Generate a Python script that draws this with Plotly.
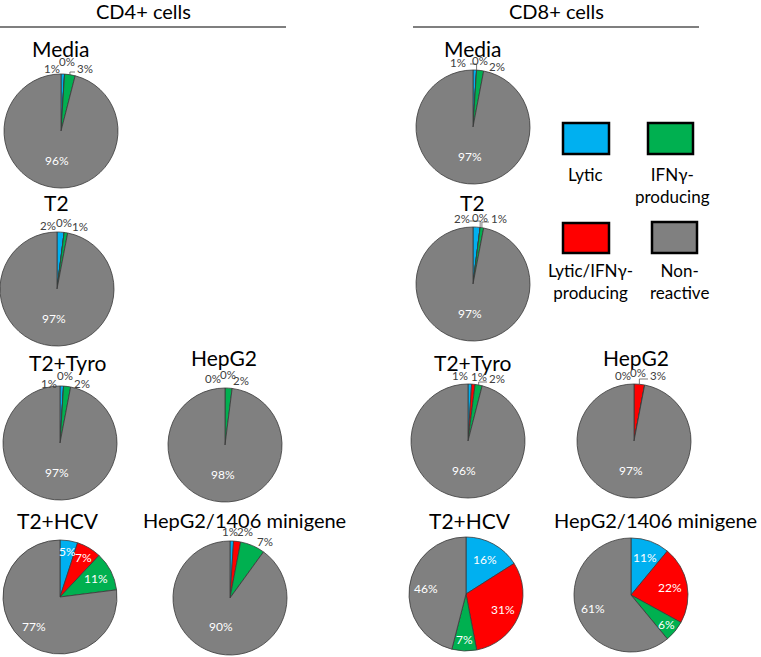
import math
import plotly.graph_objects as go

# ---------------- data ----------------
groups = ["CD4+ cells", "CD8+ cells"]
conditions = ["Media", "T2", "T2+Tyro", "HepG2", "T2+HCV", "HepG2/1406 minigene"]
categories = ["Lytic", "Lytic/IFNγ-producing", "IFNγ-producing", "Non-reactive"]

cd4_media = [1, 0, 3, 96]
cd4_t2 = [2, 0, 1, 97]
cd4_t2_tyro = [1, 0, 2, 97]
cd4_hepg2 = [0, 0, 2, 98]
cd4_t2_hcv = [5, 7, 11, 77]
cd4_hepg2_1406 = [1, 2, 7, 90]

cd8_media = [1, 0, 2, 97]
cd8_t2 = [2, 0, 1, 97]
cd8_t2_tyro = [1, 1, 2, 96]
cd8_hepg2 = [0, 3, 0, 97]
cd8_t2_hcv = [16, 31, 7, 46]
cd8_hepg2_1406 = [11, 22, 6, 61]

legend_labels = ["Lytic", "IFNγ-<br>producing", "Lytic/IFNγ-<br>producing", "Non-<br>reactive"]

# ---------------- styling / layout ----------------
W, H = 761, 657
R = 57
FONT = "Lato"
COLORS = ["#00B0F0", "#FF0000", "#00B050", "#808080"]

# pie centres in pixels
centres = {
    "CD4+ cells": [(61, 131), (57, 289), (60, 443), (225, 445), (60, 597), (230, 598)],
    "CD8+ cells": [(473, 127), (473, 284), (468, 441), (634, 441), (466, 594), (631, 595)],
}
# (x, y, xanchor)
title_pos = {
    "CD4+ cells": [(61, 48, "center"), (57, 203, "center"), (67, 362, "center"),
                   (224, 357, "center"), (58, 520, "center"), (244, 520, "center")],
    "CD8+ cells": [(473, 48, "center"), (472, 203, "center"), (472, 362, "center"),
                   (636, 357, "center"), (470, 520, "center"), (759, 520, "right")],
}
# offsets for labels placed outside the pie (None -> inside label)
outside = {
    "CD4+ cells": [
        [(-9, -63), (6, -70), (24, -63), None],
        [(-9, -64), (7, -67), (23, -63), None],
        [(-11, -60), (5, -68), (22, -60), None],
        [(-12, -67), (3, -71), (16, -65), None],
        [None, None, None, None],
        [(0, -67), (15, -67), (35, -57), None],
    ],
    "CD8+ cells": [
        [(-15, -65), (7, -67), (24, -61), None],
        [(-11, -66), (7, -67), (26, -66), None],
        [(-8, -66), (11, -65), (29, -63), None],
        [(-11, -66), (24, -66), (4, -69), None],
        [None, None, None, None],
        [None, None, None, None],
    ],
}
# outside labels that carry a leader line: (group, panel, slice)
leaders = {("CD4+ cells", 0, 2), ("CD8+ cells", 0, 1), ("CD8+ cells", 1, 1), ("CD8+ cells", 1, 2),
           ("CD8+ cells", 2, 2), ("CD8+ cells", 3, 1)}

data = {
    "CD4+ cells": [cd4_media, cd4_t2, cd4_t2_tyro, cd4_hepg2, cd4_t2_hcv, cd4_hepg2_1406],
    "CD8+ cells": [cd8_media, cd8_t2, cd8_t2_tyro, cd8_hepg2, cd8_t2_hcv, cd8_hepg2_1406],
}


def px(x, y):
    return x / W, 1 - y / H


fig = go.Figure()
annotations = []
shapes = []

for g in groups:
    for i, cond in enumerate(conditions):
        vals = data[g][i]
        cx, cy = centres[g][i]
        fig.add_trace(go.Pie(
            values=vals, labels=categories, sort=False, direction="clockwise", rotation=0,
            marker=dict(colors=COLORS, line=dict(color="#3a3a3a", width=0.8)),
            textinfo="none", hoverinfo="label+percent", showlegend=False,
            domain=dict(x=[(cx - R) / W, (cx + R) / W], y=[1 - (cy + R) / H, 1 - (cy - R) / H]),
        ))
        # panel title
        tx, ty, anc = title_pos[g][i]
        ax, ay = px(tx, ty)
        annotations.append(dict(x=ax, y=ay, xref="paper", yref="paper", text=cond, showarrow=False,
                                font=dict(family=FONT, size=20 if len(cond) > 10 else 21, color="black"),
                                xanchor=anc, yanchor="middle"))
        # percentage labels
        total = sum(vals)
        cum = 0
        for k, v in enumerate(vals):
            mid = (cum + v / 2) / total * 2 * math.pi
            cum += v
            off = outside[g][i][k]
            if off is not None:
                lx, ly = cx + off[0], cy + off[1]
                color = "#404040"
                if (g, i, k) in leaders:
                    ex = cx + math.sin(mid) * R
                    ey = cy - math.cos(mid) * R
                    hx = lx - 10
                    hy = ly + 4
                    a0, b0 = px(ex, ey)
                    a1, b1 = px(ex, hy)
                    a2, b2 = px(hx, hy)
                    shapes.append(dict(type="path", xref="paper", yref="paper",
                                       path=f"M {a0} {b0} L {a1} {b1} L {a2} {b2}",
                                       line=dict(color="#595959", width=0.8)))
                size = 11.5
            else:
                frac = 0.8 if v < 8 else (0.7 if v < 80 else 0.52)
                lx = cx + math.sin(mid) * R * frac
                ly = cy - math.cos(mid) * R * frac
                color = "white"
                size = 12
            ax, ay = px(lx, ly)
            annotations.append(dict(x=ax, y=ay, xref="paper", yref="paper", text=f"{v}%",
                                    showarrow=False, font=dict(family=FONT, size=size, color=color),
                                    xanchor="center", yanchor="middle"))

# group headers + underline
for g, (hx, x0, x1) in zip(groups, [(143, 0, 286), (556, 413, 699)]):
    ax, ay = px(hx, 11)
    annotations.append(dict(x=ax, y=ay, xref="paper", yref="paper", text=g, showarrow=False,
                            font=dict(family=FONT, size=20, color="black"),
                            xanchor="center", yanchor="middle"))
    a0, b0 = px(x0, 27)
    a1, b1 = px(x1, 27)
    shapes.append(dict(type="line", xref="paper", yref="paper", x0=a0, y0=b0, x1=a1, y1=b1,
                       line=dict(color="black", width=1.2)))

# custom legend
boxes = [(563, 123, 609, 154), (648, 123, 693, 154), (563, 223, 609, 253), (652, 222, 697, 253)]
legend_text_pos = [(585, 175), (672, 185), (590, 281), (679, 281)]
legend_colors = [COLORS[0], COLORS[2], COLORS[1], COLORS[3]]
for (x0, y0, x1, y1), col, lab, (lx, ly) in zip(boxes, legend_colors, legend_labels, legend_text_pos):
    a0, b0 = px(x0, y1)
    a1, b1 = px(x1, y0)
    shapes.append(dict(type="rect", xref="paper", yref="paper", x0=a0, y0=b0, x1=a1, y1=b1,
                       fillcolor=col, line=dict(color="black", width=2.5)))
    ax, ay = px(lx, ly)
    annotations.append(dict(x=ax, y=ay, xref="paper", yref="paper", text=lab, showarrow=False,
                            font=dict(family=FONT, size=17, color="black"),
                            xanchor="center", yanchor="middle", align="center"))

fig.update_layout(
    width=W, height=H, margin=dict(l=0, r=0, t=0, b=0),
    paper_bgcolor="white", plot_bgcolor="white",
    annotations=annotations, shapes=shapes, showlegend=False,
)

fig.write_html("out.html", config={"displayModeBar": False},
               post_script="document.body.style.margin='0';")
